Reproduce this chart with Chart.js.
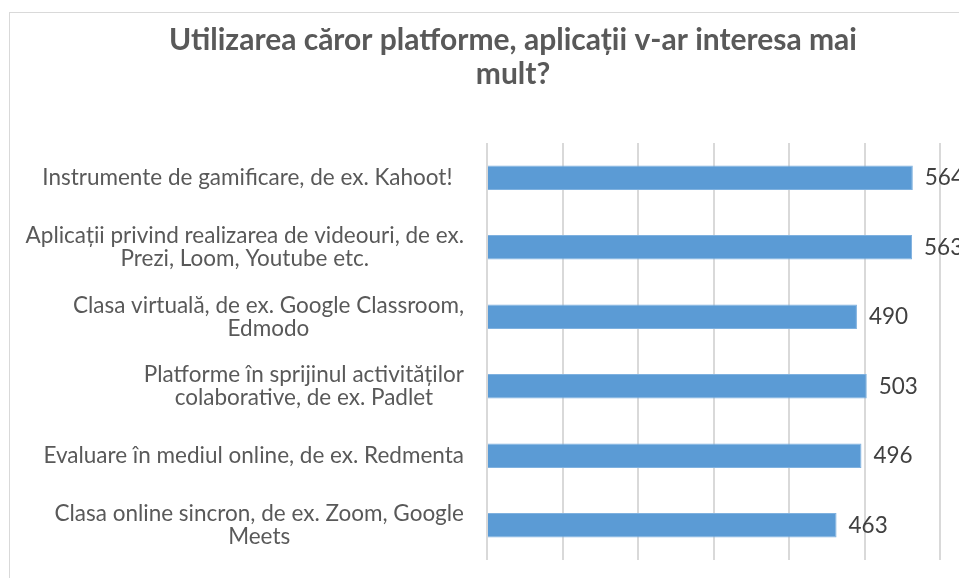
<!DOCTYPE html>
<html>
<head>
<meta charset="utf-8">
<script src="https://cdn.jsdelivr.net/npm/chart.js@4.4.0/dist/chart.umd.min.js"></script>
<style>
  html, body { margin: 0; padding: 0; background: #fff; overflow: hidden; }
  #wrap { position: relative; width: 959px; height: 578px; overflow: hidden; }
  #frame { position: absolute; left: 9px; top: 12px; width: 1100px; height: 700px; border: 1px solid #d9d9d9; box-sizing: border-box; }
  #myChart { position: absolute; left: 0; top: 0; }
</style>
</head>
<body>
<div id="wrap">
  <div id="frame"></div>
  <canvas id="myChart" width="1026" height="578" style="width:1026px;height:578px"></canvas>
</div>
<script>
const categories = [
  ['Instrumente de gamificare, de ex. Kahoot!  '],
  ['Aplicații privind realizarea de videouri, de ex.', 'Prezi, Loom, Youtube etc.'],
  ['Clasa virtuală, de ex. Google Classroom,', 'Edmodo'],
  ['Platforme în sprijinul activităților', 'colaborative, de ex. Padlet'],
  ['Evaluare în mediul online, de ex. Redmenta'],
  ['Clasa online sincron, de ex. Zoom, Google', 'Meets']
]
const values = [564, 563, 490, 503, 496, 463]
const titleLines = ['Utilizarea căror platforme, aplicații v-ar interesa mai', 'mult?']

const labelFont = '22.5px Lato'
const textColor = '#595959'

// title, centred on the whole (wider than the window) chart
const chartTitle = {
  id: 'chartTitle',
  afterDraw(chart) {
    const ctx = chart.ctx
    ctx.save()
    ctx.font = 'bold 30px Lato'
    ctx.fillStyle = textColor
    ctx.textAlign = 'center'
    ctx.textBaseline = 'middle'
    titleLines.forEach((l, i) => ctx.fillText(l, chart.width / 2, 40 + i * 34))
    ctx.restore()
  }
}

// category labels: each block right aligned, lines centered inside the block
const categoryLabels = {
  id: 'categoryLabels',
  afterDraw(chart) {
    const ctx = chart.ctx
    const yScale = chart.scales.y
    const right = chart.chartArea.left - 23
    const lineH = 23
    ctx.save()
    ctx.font = labelFont
    ctx.fillStyle = textColor
    ctx.textAlign = 'center'
    ctx.textBaseline = 'middle'
    categories.forEach((lines, i) => {
      const w = Math.max(...lines.map(l => ctx.measureText(l).width))
      const cx = right - w / 2
      const cy = yScale.getPixelForValue(i)
      const top = cy - (lines.length - 1) * lineH / 2
      lines.forEach((l, j) => ctx.fillText(l, cx, top + j * lineH))
    })
    ctx.restore()
  }
}

// value labels at the end of each bar
const valueLabels = {
  id: 'valueLabels',
  afterDatasetsDraw(chart) {
    const ctx = chart.ctx
    const meta = chart.getDatasetMeta(0)
    ctx.save()
    ctx.font = labelFont
    ctx.fillStyle = '#404040'
    ctx.textAlign = 'left'
    ctx.textBaseline = 'middle'
    meta.data.forEach((bar, i) => {
      ctx.fillText(String(values[i]), bar.x + 12, bar.y)
    })
    ctx.restore()
  }
}

const ctx = document.getElementById('myChart').getContext('2d')
const myChart = new Chart(ctx, {
  type: 'bar',
  data: {
    labels: categories.map(c => c.join(' ').trim()),
    datasets: [{
      data: values,
      backgroundColor: '#5b9bd5',
      borderColor: '#7fb1df',
      borderWidth: 1,
      barPercentage: 0.35,
      categoryPercentage: 1
    }]
  },
  plugins: [chartTitle, categoryLabels, valueLabels],
  options: {
    indexAxis: 'y',
    responsive: false,
    animation: false,
    layout: { padding: { left: 487, right: 86, top: 143, bottom: 18 } },
    scales: {
      x: {
        min: 0,
        max: 600,
        ticks: { display: false, stepSize: 100 },
        grid: { color: '#d9d9d9', lineWidth: 2, drawTicks: false },
        border: { display: false },
        afterFit(scale) { scale.height = 0 }
      },
      y: {
        ticks: { display: false },
        grid: { display: false, drawTicks: false },
        border: { display: false },
        afterFit(scale) { scale.width = 0 }
      }
    },
    plugins: {
      legend: { display: false },
      tooltip: { enabled: false },
      title: { display: false }
    }
  }
})
</script>
</body>
</html>
